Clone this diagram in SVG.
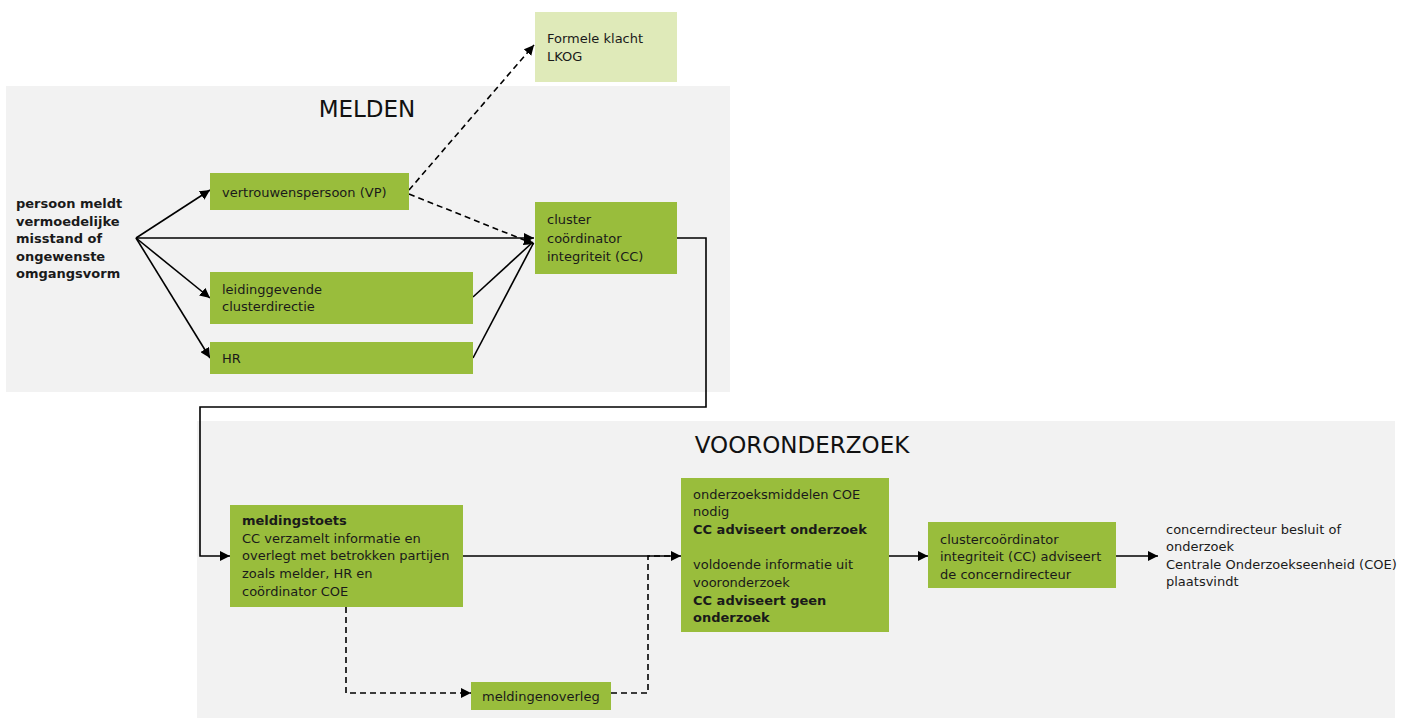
<svg xmlns="http://www.w3.org/2000/svg" width="1409" height="718" viewBox="0 0 1409 718">
  <style>
    .panel { fill: #f2f2f2; }
    .box { fill: #99bd3c; }
    .soft { fill: #dfeab9; }
    .t { font-family: "DejaVu Sans", Verdana, sans-serif; font-size: 13px; fill: #1a1a1a; }
    .b { font-weight: bold; }
    .title { font-family: "DejaVu Sans", Verdana, sans-serif; font-size: 23px; fill: #111; text-anchor: middle; }
    .line { fill: none; stroke: #000; stroke-width: 1.6; }
    .dash { fill: none; stroke: #000; stroke-width: 1.6; stroke-dasharray: 6 4; }
  </style>
  <defs>
    <marker id="arrow" viewBox="0 0 10 10" refX="10" refY="5" markerWidth="10" markerHeight="10" markerUnits="userSpaceOnUse" orient="auto">
      <path d="M0,0 L10,5 L0,10 z" fill="#000"/>
    </marker>
  </defs>

  <rect width="1409" height="718" fill="#ffffff"/>

  <!-- panels -->
  <g id="panel-melden">
    <rect class="panel" x="6" y="86" width="724" height="306"/>
    <text class="title" x="367" y="117">MELDEN</text>
  </g>
  <g id="panel-vooronderzoek">
    <rect class="panel" x="197" y="421" width="1198" height="297"/>
    <text class="title" x="802" y="453">VOORONDERZOEK</text>
  </g>

  <!-- connectors -->
  <g id="connectors">
    <line class="line" x1="136" y1="238" x2="210" y2="190" marker-end="url(#arrow)"/>
    <line class="line" x1="136" y1="238" x2="534" y2="238" marker-end="url(#arrow)"/>
    <line class="line" x1="136" y1="238" x2="210" y2="298" marker-end="url(#arrow)"/>
    <line class="line" x1="136" y1="238" x2="210" y2="358" marker-end="url(#arrow)"/>
    <line class="line" x1="473" y1="297" x2="533" y2="242"/>
    <line class="line" x1="473" y1="358" x2="533" y2="244"/>
    <line class="dash" x1="409" y1="194" x2="534" y2="244" marker-end="url(#arrow)"/>
    <line class="dash" x1="409" y1="190" x2="534" y2="45" marker-end="url(#arrow)"/>
    <polyline class="line" points="677,238 706,238 706,407 200,407 200,556 230,556" marker-end="url(#arrow)"/>
    <line class="line" x1="463" y1="556" x2="681" y2="556" marker-end="url(#arrow)"/>
    <polyline class="dash" points="346,607 346,693 471,693" marker-end="url(#arrow)"/>
    <polyline class="dash" points="611,693 648,693 648,556 670,556"/>
    <line class="line" x1="889" y1="556" x2="928" y2="556" marker-end="url(#arrow)"/>
    <line class="line" x1="1116" y1="556" x2="1158" y2="556" marker-end="url(#arrow)"/>
  </g>

  <!-- nodes -->
  <g id="melder">
    <text class="t b" x="16" y="208">persoon meldt</text>
    <text class="t b" x="16" y="226">vermoedelijke</text>
    <text class="t b" x="16" y="243">misstand of</text>
    <text class="t b" x="16" y="261">ongewenste</text>
    <text class="t b" x="16" y="278">omgangsvorm</text>
  </g>
  <g id="formele-klacht">
    <rect class="soft" x="535" y="12" width="142" height="70"/>
    <text class="t" x="547" y="43">Formele klacht</text>
    <text class="t" x="547" y="61">LKOG</text>
  </g>
  <g id="vertrouwenspersoon">
    <rect class="box" x="210" y="173" width="199" height="37"/>
    <text class="t" x="222" y="197">vertrouwenspersoon (VP)</text>
  </g>
  <g id="leidinggevende">
    <rect class="box" x="210" y="272" width="263" height="52"/>
    <text class="t" x="222" y="294">leidinggevende</text>
    <text class="t" x="222" y="311">clusterdirectie</text>
  </g>
  <g id="hr">
    <rect class="box" x="210" y="342" width="263" height="32"/>
    <text class="t" x="222" y="363">HR</text>
  </g>
  <g id="cluster-coordinator">
    <rect class="box" x="535" y="202" width="142" height="72"/>
    <text class="t" x="547" y="224">cluster</text>
    <text class="t" x="547" y="243">coördinator</text>
    <text class="t" x="547" y="261">integriteit (CC)</text>
  </g>
  <g id="meldingstoets">
    <rect class="box" x="230" y="505" width="233" height="102"/>
    <text class="t b" x="242" y="525">meldingstoets</text>
    <text class="t" x="242" y="543">CC verzamelt informatie en</text>
    <text class="t" x="242" y="560">overlegt met betrokken partijen</text>
    <text class="t" x="242" y="578">zoals melder, HR en</text>
    <text class="t" x="242" y="596">coördinator COE</text>
  </g>
  <g id="meldingenoverleg">
    <rect class="box" x="471" y="682" width="140" height="28"/>
    <text class="t" x="482" y="701">meldingenoverleg</text>
  </g>
  <g id="advies">
    <rect class="box" x="681" y="478" width="208" height="154"/>
    <text class="t" x="693" y="499">onderzoeksmiddelen COE</text>
    <text class="t" x="693" y="516">nodig</text>
    <text class="t b" x="693" y="534">CC adviseert onderzoek</text>
    <text class="t" x="693" y="569">voldoende informatie uit</text>
    <text class="t" x="693" y="587">vooronderzoek</text>
    <text class="t b" x="693" y="605">CC adviseert geen</text>
    <text class="t b" x="693" y="622">onderzoek</text>
  </g>
  <g id="clustercoordinator-advies">
    <rect class="box" x="928" y="522" width="188" height="66"/>
    <text class="t" x="940" y="544">clustercoördinator</text>
    <text class="t" x="940" y="561">integriteit (CC) adviseert</text>
    <text class="t" x="940" y="579">de concerndirecteur</text>
  </g>
  <g id="besluit">
    <text class="t" x="1166" y="534">concerndirecteur besluit of</text>
    <text class="t" x="1166" y="551">onderzoek</text>
    <text class="t" x="1166" y="569">Centrale Onderzoekseenheid (COE)</text>
    <text class="t" x="1166" y="586">plaatsvindt</text>
  </g>
</svg>
